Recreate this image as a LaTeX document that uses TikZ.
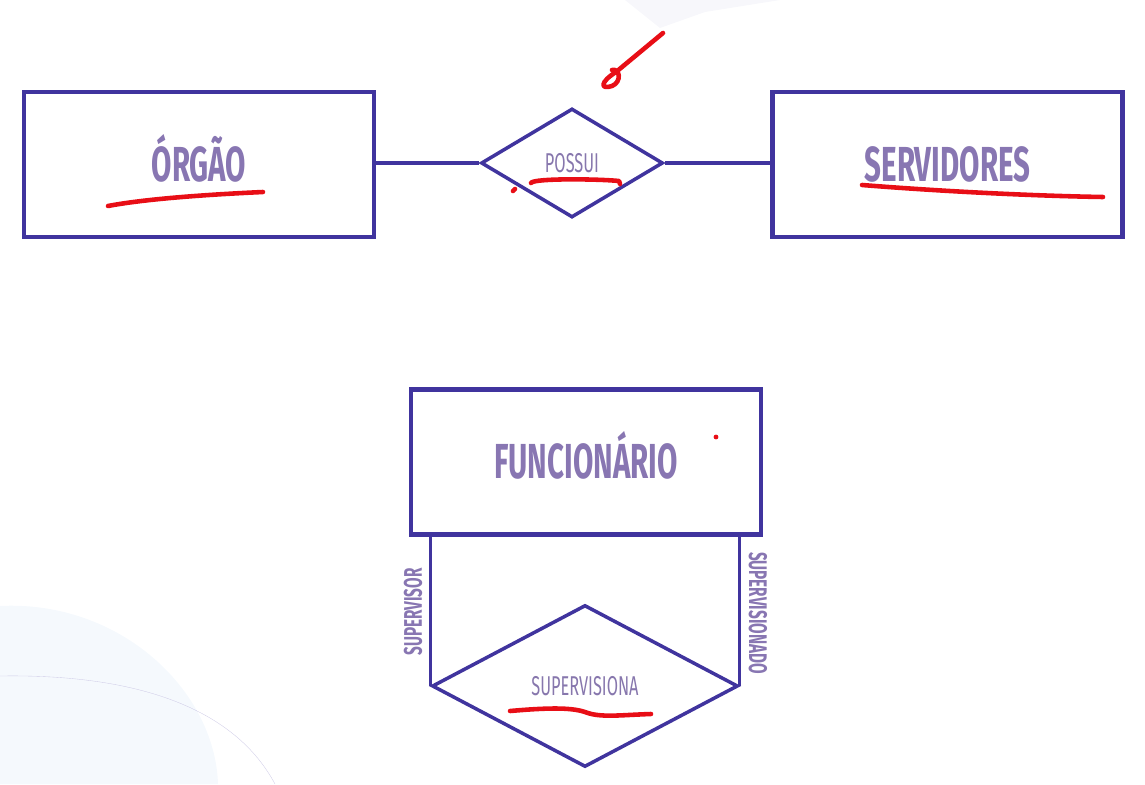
\documentclass[tikz,border=0pt]{standalone}
\usepackage{fontspec}
\usepackage{tikz}
\usetikzlibrary{shapes.geometric}
\newfontfamily\erfont[FakeStretch=0.6]{Fira Sans}
\definecolor{erblue}{RGB}{64,52,158}
\definecolor{ertext}{RGB}{136,118,178}
\definecolor{erred}{RGB}{232,14,22}
\definecolor{bgblue}{RGB}{245,249,253}
\tikzset{
    entity/.style = {rectangle, draw=erblue, line width=2.6pt, minimum width=7.0cm, minimum height=2.9cm, inner sep=0pt, text height=19.3pt, text depth=0pt, text=ertext, font=\erfont\bfseries\fontsize{28}{30}\selectfont},
    relation/.style = {diamond, draw=erblue, line width=2pt, inner sep=0pt, text=ertext!90!gray, font=\erfont\fontsize{15.5}{16}\selectfont},
    role/.style = {text=ertext, inner sep=0pt, font=\erfont\bfseries\fontsize{14.5}{15}\selectfont},
    link/.style = {draw=erblue, line width=2pt},
    redmark/.style = {draw=erred, line width=2.6pt, line cap=round, line join=round}
}
\begin{document}
\begin{tikzpicture}[x=0.02cm,y=-0.02cm]
    \useasboundingbox (0,0) rectangle (1145,784);
    % faint background
    \fill[bgblue] (0,606) .. controls (120,600) and (215,690) .. (218,784) -- (0,784) -- cycle;
    \draw[erblue!25, very thin] (0,676) .. controls (120,674) and (230,700) .. (275,784);
    \fill[erblue!4] (625,0) -- (660,28) -- (705,12) -- (780,0) -- cycle;
    % entities and relations
    \node[entity] (orgao) at (199,164.5) {ÓRGÃO};
    \node[entity] (servidores) at (947.5,164.5) {SERVIDORES};
    \node[relation, minimum width=3.64cm, minimum height=2.18cm] (possui) at (572,163) {POSSUI};
    \node[entity] (func) at (586,462) {FUNCIONÁRIO};
    \node[relation, minimum width=6.12cm, minimum height=3.24cm] (superv) at (585,686) {SUPERVISIONA};
    \draw[link] (orgao.east |- possui.west) -- (possui.west);
    \draw[link] (possui.east) -- (servidores.west |- possui.east);
    \draw[link] (superv.west |- func.south) -- (superv.west);
    \draw[link] (superv.east |- func.south) -- (superv.east);
    \node[role, rotate=90] (supervisor) at (413,612) {SUPERVISOR};
    \node[role, rotate=-90] (supervisionado) at (758,613) {SUPERVISIONADO};
    % red annotations
    \draw[redmark] (108,206) .. controls (150,198) and (220,194) .. (263,192);
    \draw[redmark] (862,185) .. controls (950,192) and (1040,196) .. (1103,197);
    \draw[redmark] (531,183) .. controls (533,178) and (600,179) .. (619,181) -- (620,184);
    \draw[redmark] (513,191) -- (515,189);
    \draw[redmark] (663,33) -- (616,72) .. controls (600,82) and (600,90) .. (612,86) .. controls (622,82) and (620,68) .. (612,70);
    \fill[erred] (716,437) circle (2.4);
    \draw[redmark] (510,711) .. controls (545,708) and (570,707) .. (585,712) .. controls (600,718) and (620,715) .. (651,714);
\end{tikzpicture}
\end{document}
